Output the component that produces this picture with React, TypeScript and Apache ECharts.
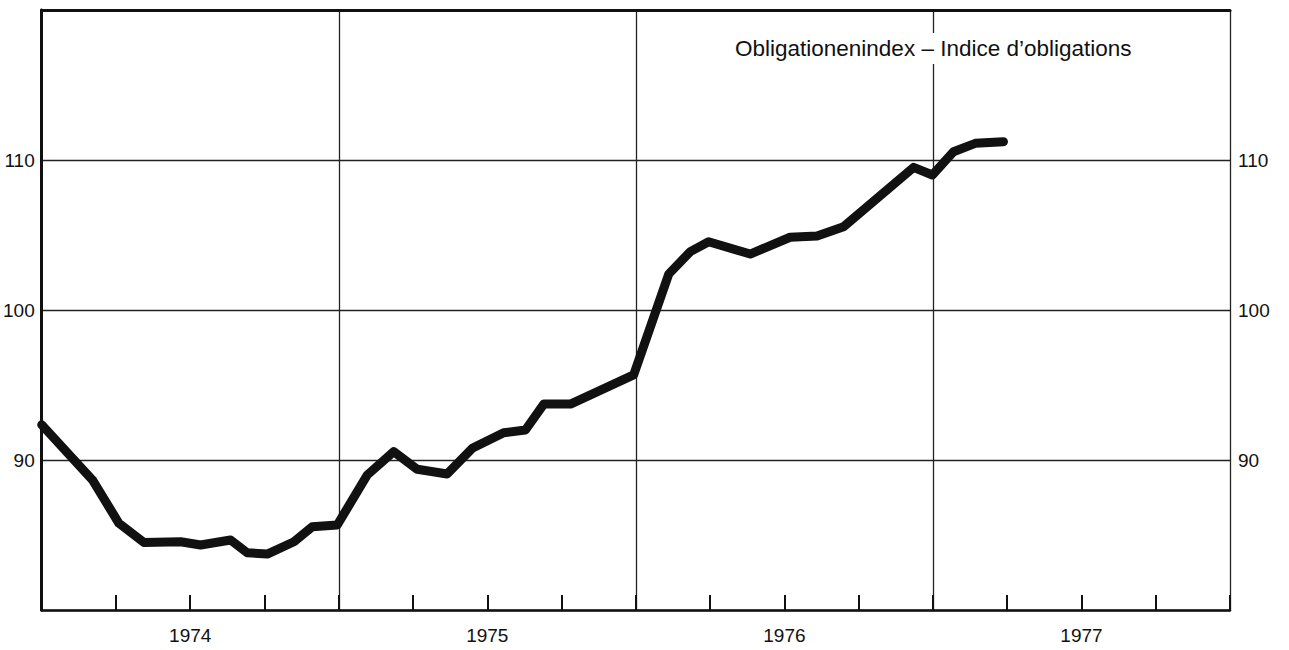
import React, { useEffect, useRef } from "react";
import * as echarts from "echarts";

// Month positions (months since Jan 1974) and index values
const months = [0, 2.05, 3.12, 4.13, 5.61, 6.42, 7.63, 8.3, 9.11, 10.19, 10.93, 11.94, 13.15, 14.22, 15.17, 16.38, 17.39, 18.66, 19.54, 20.28, 21.36, 23.91, 25.33, 26.2, 26.94, 28.62, 30.23, 31.32, 32.39, 35.22, 35.98, 36.83, 37.71, 38.85];
const values = [92.35, 88.67, 85.78, 84.5, 84.55, 84.33, 84.67, 83.82, 83.73, 84.55, 85.55, 85.67, 89.0, 90.56, 89.38, 89.07, 90.78, 91.82, 92.0, 93.73, 93.73, 95.67, 102.4, 103.89, 104.55, 103.73, 104.85, 104.93, 105.55, 109.51, 109.0, 110.55, 111.11, 111.22];
const years = ["1974", "1975", "1976", "1977"];
const yTickLabels = [90, 100, 110];
const titleText = "Obligationenindex – Indice d’obligations";

const FONT = "'Liberation Sans', Arial, Helvetica, sans-serif";
const INK = "#111";

export default function App() {
  const ref = useRef<HTMLDivElement>(null);
  useEffect(() => {
    if (!ref.current) return;
    const chart = echarts.init(ref.current, null, { renderer: "svg" });
    const yFmt = (v: number) => (yTickLabels.includes(v) ? String(v) : "");
    const xFmt = (v: number) => {
      const r = Math.round(v);
      if (r % 12 === 6) return years[Math.floor(r / 12)] ?? "";
      return "";
    };
    chart.setOption({
      animation: false,
      backgroundColor: "#fff",
      title: {
        text: titleText,
        left: 735,
        top: 33,
        padding: [4, 0, 4, 0],
        backgroundColor: "#fff",
        textStyle: { fontSize: 22.5, fontWeight: "normal", color: INK, fontFamily: FONT },
      },
      grid: { left: 41, top: 10, right: 59, bottom: 40, containLabel: false },
      xAxis: [
        {
          type: "value",
          min: 0,
          max: 48,
          interval: 3,
          position: "bottom",
          axisLine: { show: true, lineStyle: { color: INK, width: 2.5 } },
          axisTick: { show: true, inside: true, length: 15, lineStyle: { color: INK, width: 2 } },
          axisLabel: {
            formatter: xFmt,
            fontSize: 19,
            color: INK,
            fontFamily: FONT,
            margin: 16,
            showMinLabel: true,
            showMaxLabel: true,
          },
          splitLine: { show: false },
        },
        {
          type: "value",
          min: 0,
          max: 48,
          interval: 12,
          position: "top",
          axisLine: { show: true, lineStyle: { color: INK, width: 3 } },
          axisTick: { show: false },
          axisLabel: { show: false },
          splitLine: { show: true, lineStyle: { color: "#222", width: 1.3 } },
        },
      ],
      yAxis: [
        {
          type: "value",
          min: 80,
          max: 120,
          interval: 10,
          position: "left",
          axisLine: { show: true, lineStyle: { color: INK, width: 3 } },
          axisTick: { show: false },
          axisLabel: { formatter: yFmt, fontSize: 19, color: INK, fontFamily: FONT, margin: 7 },
          splitLine: { show: true, lineStyle: { color: "#222", width: 1.3 } },
        },
        {
          type: "value",
          min: 80,
          max: 120,
          interval: 10,
          position: "right",
          axisLine: { show: true, lineStyle: { color: INK, width: 2.5 } },
          axisTick: { show: false },
          axisLabel: { formatter: yFmt, fontSize: 19, color: INK, fontFamily: FONT, margin: 8 },
          splitLine: { show: false },
        },
      ],
      series: [
        {
          type: "line",
          xAxisIndex: 0,
          yAxisIndex: 0,
          data: months.map((m, i) => [m, values[i]]),
          showSymbol: false,
          symbol: "none",
          clip: true,
          lineStyle: { color: INK, width: 9, cap: "round", join: "round" },
          z: 3,
        },
      ],
    });
    return () => chart.dispose();
  }, []);
  return (
    <div
      ref={ref}
      style={{ position: "fixed", left: 0, top: 0, width: 1289, height: 650, background: "#fff" }}
    />
  );
}
